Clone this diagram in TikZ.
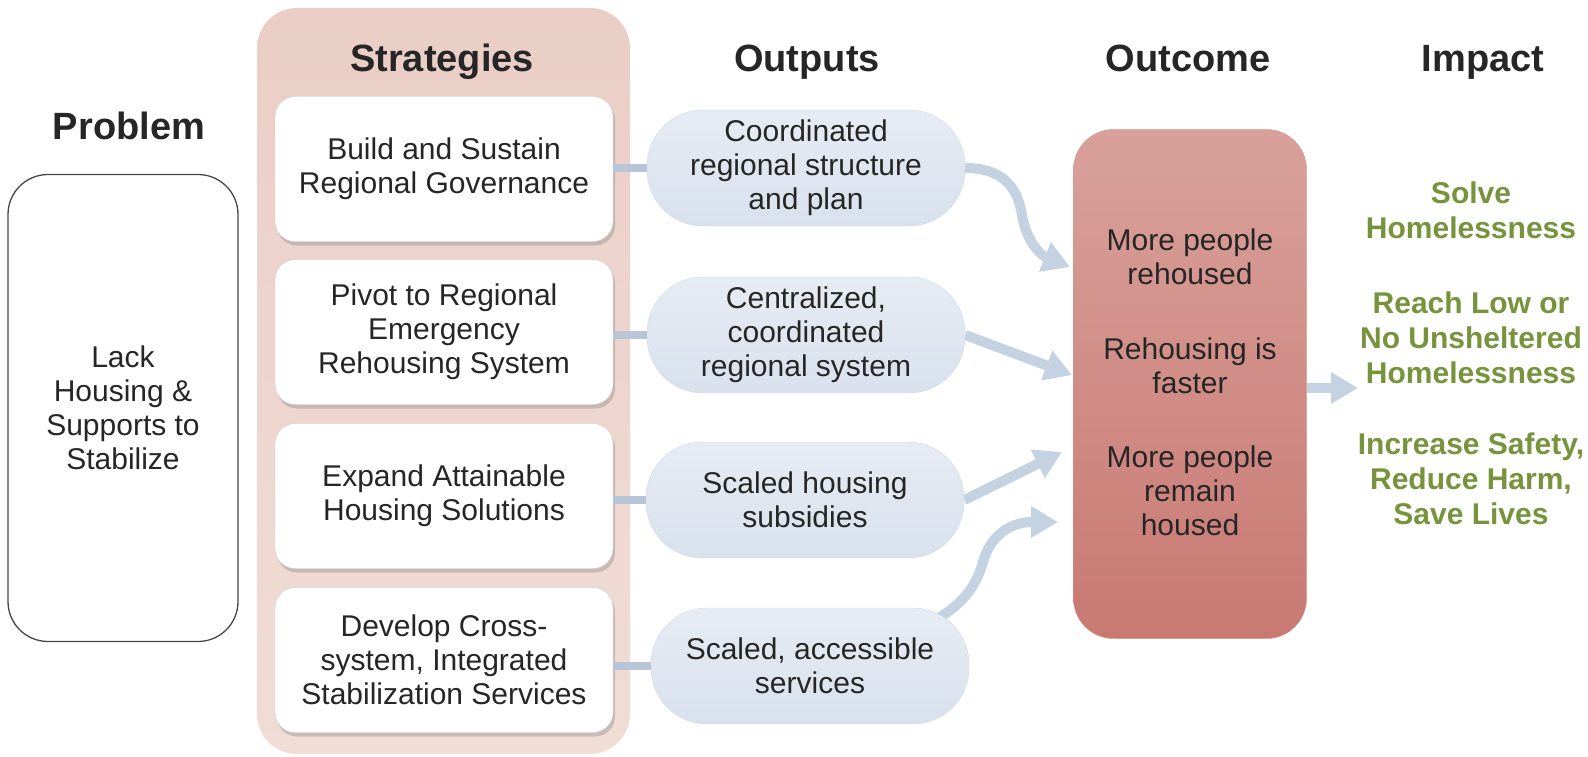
\documentclass[tikz,border=0pt]{standalone}
\usepackage{fontspec}
\setmainfont{Liberation Sans}
\usetikzlibrary{arrows.meta,shadows,backgrounds}

\definecolor{inkgray}{RGB}{38,38,38}
\definecolor{probline}{RGB}{70,70,70}
\definecolor{stratbgtop}{RGB}{234,206,198}
\definecolor{stratbgbot}{RGB}{241,221,214}
\definecolor{stratline}{RGB}{205,205,205}
\definecolor{pilltop}{RGB}{231,236,244}
\definecolor{pillbot}{RGB}{216,225,237}
\definecolor{pillline}{RGB}{210,218,230}
\definecolor{outtop}{RGB}{217,161,155}
\definecolor{outbot}{RGB}{200,121,114}
\definecolor{outline}{RGB}{206,142,135}
\definecolor{linkblue}{RGB}{184,197,214}
\definecolor{flowblue}{RGB}{196,210,226}
\definecolor{impactgreen}{RGB}{119,147,60}

\begin{document}
\begin{tikzpicture}[x=1pt,y=-1pt,
    head/.style={font=\fontsize{38}{44}\selectfont\bfseries, text=inkgray, anchor=base},
    txt/.style={align=center, font=\fontsize{30}{34}\selectfont, text=inkgray},
    strat/.style={txt, draw=stratline, fill=white, rounded corners=20pt,
        minimum width=338pt, minimum height=145pt,
        drop shadow={shadow xshift=2pt, shadow yshift=-4pt, opacity=0.35}},
    outp/.style={txt, draw=pillline, top color=pilltop, bottom color=pillbot,
        rounded corners=56pt, minimum width=318pt, minimum height=116pt},
    impact/.style={align=center, font=\fontsize{30}{35}\selectfont\bfseries, text=impactgreen},
    link/.style={line width=8pt, draw=linkblue},
    flow/.style={line width=10pt, draw=flowblue, -{Triangle[length=27pt,width=30pt]}}]

    \useasboundingbox (0,0) rectangle (1588,757);

    % strategies panel
    \shade[top color=stratbgtop, bottom color=stratbgbot, rounded corners=40pt]
        (257,8) rectangle (630,754);

    % column headings
    \node[head] (hprob) at (129,140) {Problem};
    \node[head] (hstrat) at (442,72) {Strategies};
    \node[head] (hout) at (807,72) {Outputs};
    \node[head] (hcome) at (1188,72) {Outcome};
    \node[head] (himp) at (1483,72) {Impact};

    \node[txt, draw=probline, line width=1.3pt, rounded corners=40pt,
        minimum width=230pt, minimum height=467pt] (prob) at (123,408)
        {Lack\\Housing \&\\Supports to\\Stabilize};

    \node[strat] (s1) at (444,169) {Build and Sustain\\Regional Governance};
    \node[strat] (s2) at (444,332) {Pivot to Regional\\Emergency\\Rehousing System};
    \node[strat] (s3) at (444,496) {Expand Attainable\\Housing Solutions};
    \node[strat] (s4) at (444,660) {Develop Cross-\\system, Integrated\\Stabilization Services};

    \node[outp] (o1) at (806,168) {Coordinated\\regional structure\\and plan};
    \node[outp] (o2) at (806,335) {Centralized,\\coordinated\\regional system};
    \node[outp] (o3) at (805,500) {Scaled housing\\subsidies};
    \node[outp] (o4) at (810,666) {Scaled, accessible\\services};

    \draw[link] (s1.east |- o1.west) -- (o1.west);
    \draw[link] (s2.east |- o2.west) -- (o2.west);
    \draw[link] (s3.east |- o3.west) -- (o3.west);
    \draw[link] (s4.east |- o4.west) -- (o4.west);

    % outcome column
    \node[draw=outline, top color=outtop, bottom color=outbot, rounded corners=40pt,
        minimum width=233pt, minimum height=509pt] (outcome) at (1190,384) {};
    \node[txt] (oc1) at (1190,257) {More people\\rehoused};
    \node[txt] (oc2) at (1190,366) {Rehousing is\\faster};
    \node[txt] (oc3) at (1190,491) {More people\\remain\\housed};

    \coordinate (start4) at (932,622);
    \coordinate (in1) at (1070,267);
    \coordinate (in2) at (1072,375);
    \coordinate (in3) at (1062,452);
    \coordinate (in4) at (1058,522);
    \coordinate (imp) at (1358,388);

    \begin{scope}[on background layer]
    \draw[flow] (o1.east) .. controls (1005,168) and (1018,190) .. (1022,215)
        .. controls (1026,240) and (1040,255) .. (in1);
    \draw[flow] (o2.east) -- (in2);
    \draw[flow] (o3.east) -- (in3);
    \draw[flow] (start4) .. controls (960,606) and (975,590) .. (983,562)
        .. controls (990,536) and (1010,522) .. (in4);
    \end{scope}
    \draw[flow] (outcome.east |- imp) -- (imp);

    % impact column
    \node[impact] (i1) at (1471,210) {Solve\\Homelessness};
    \node[impact] (i2) at (1471,338) {Reach Low or\\No Unsheltered\\Homelessness};
    \node[impact] (i3) at (1471,479) {Increase Safety,\\Reduce Harm,\\Save Lives};
\end{tikzpicture}
\end{document}
